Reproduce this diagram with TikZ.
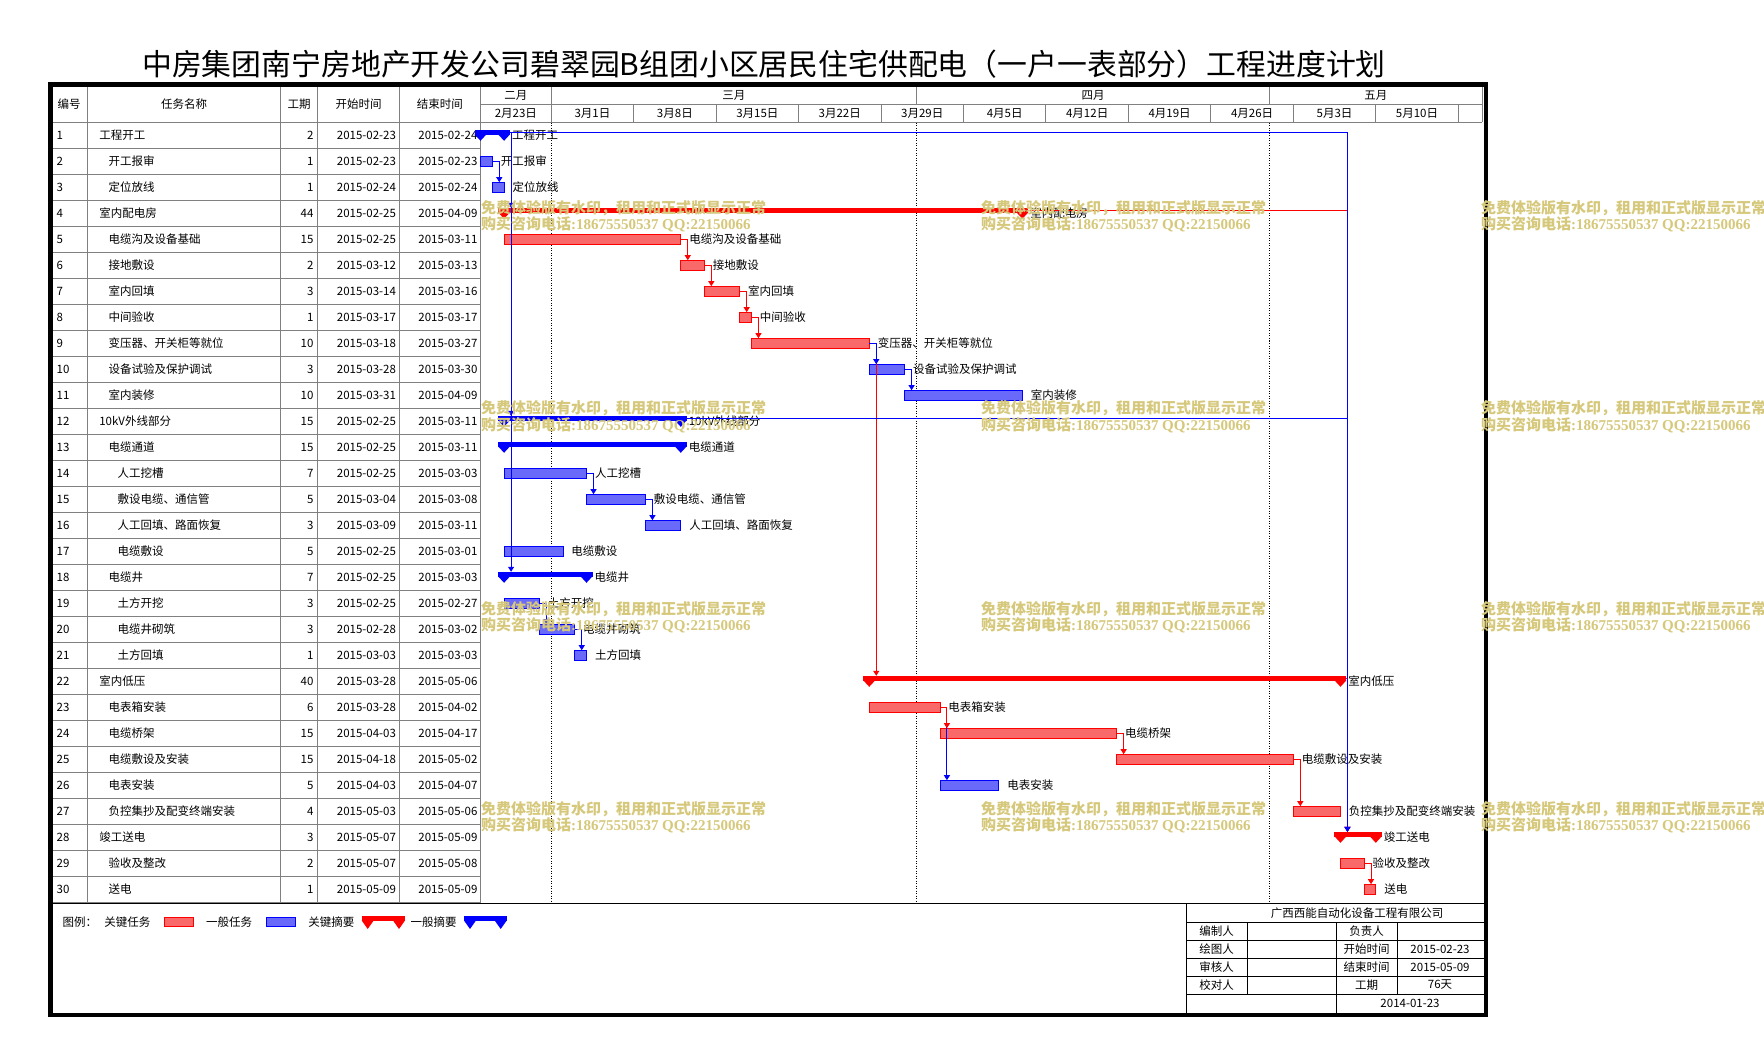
\documentclass[tikz,border=0pt]{standalone}
\usepackage{fontspec}
\setmainfont{Noto Sans CJK SC}
\newfontfamily\wmlat{Liberation Serif}
\usetikzlibrary{arrows.meta,calc}
\definecolor{gridc}{RGB}{128,128,128}
\definecolor{wm}{RGB}{214,200,122}
\definecolor{rfill}{RGB}{250,105,105}
\definecolor{bfill}{RGB}{105,105,250}
\definecolor{myred}{RGB}{255,0,0}
\definecolor{myblue}{RGB}{0,0,255}

% task bar: name,row,d1,d2,style,label
\newcommand\gtask[6]{%
  \pgfmathsetmacro\gxa{480.5+11.78*(#3)}%
  \pgfmathsetmacro\gxb{480.5+11.78*(#4)}%
  \pgfmathsetmacro\gyc{109.3+26*(#2)}%
  \pgfmathsetmacro\gwd{\gxb-\gxa}%
  \node[#5,minimum width=\gwd pt,anchor=west] (#1) at (\gxa,\gyc) {};%
  \coordinate (#1a) at ({\gxa+7},{\gyc-5.1});%
  \node[lbl] (#1l) at ({\gxb+8.5},{\gyc}) {#6};%
}
% summary bar: name,row,d1,d2,colour,label
\newcommand\gsum[6]{%
  \pgfmathsetmacro\gxa{480.5+11.78*(#3)}%
  \pgfmathsetmacro\gxb{480.5+11.78*(#4)}%
  \pgfmathsetmacro\gyc{109.3+26*(#2)}%
  \pgfmathsetmacro\gwd{\gxb-\gxa+12}%
  \node[fill=#5,inner sep=0pt,outer sep=0pt,minimum height=5pt,minimum width=\gwd pt,anchor=west] (#1) at ({\gxa-6},{\gyc-3}) {};%
  \fill[#5] ({\gxa-6},{\gyc-1}) -- ({\gxa+6},{\gyc-1}) -- ({\gxa},{\gyc+5.5}) -- cycle;%
  \fill[#5] ({\gxb-6},{\gyc-1}) -- ({\gxb+6},{\gyc-1}) -- ({\gxb},{\gyc+5.5}) -- cycle;%
  \coordinate (#1a) at ({\gxa+7},{\gyc-5.5});%
  \node[lbl] (#1l) at ({\gxb+8},{\gyc}) {#6};%
}
% table row: i, indent, name, duration, start, end
\newcommand\trow[6]{%
  \pgfmathsetmacro\gyc{109.3+26*(#1)}%
  \node[tx,anchor=west] (no#1) at (56.7,\gyc) {#1};%
  \node[tx,anchor=west] (na#1) at (#2,\gyc) {#3};%
  \node[tx,anchor=east] (du#1) at (313.5,\gyc) {#4};%
  \node[tx,anchor=east] (st#1) at (396,\gyc) {#5};%
  \node[tx,anchor=east] (en#1) at (477.5,\gyc) {#6};%
}
% legend summary symbol: name,x1,x2,colour
\newcommand\lsum[4]{%
  \node[fill=#4,inner sep=0pt,outer sep=0pt,minimum height=5pt,minimum width={(#3)-(#2)},anchor=west] (#1) at (#2,918.3) {};%
  \fill[#4] (#2,920.5) -- ({#2+12},920.5) -- ({#2+6},929) -- cycle;%
  \fill[#4] ({#3-12},920.5) -- (#3,920.5) -- ({#3-6},929) -- cycle;%
}

\begin{document}
\begin{tikzpicture}[x=1pt,y=-1pt,
  tx/.style={inner sep=0pt,outer sep=0pt,font=\fontsize{11.5}{12}\selectfont},
  lbl/.style={tx,anchor=west},
  rtask/.style={draw=myred,fill=rfill,line width=0.8pt,inner sep=0pt,outer sep=0pt,minimum height=9.5pt},
  btask/.style={draw=myblue,fill=bfill,line width=0.8pt,inner sep=0pt,outer sep=0pt,minimum height=9.5pt},
  gridl/.style={draw=gridc,line width=1pt},
  rlink/.style={draw=myred,line width=1pt,-{Triangle[width=6pt,length=5pt]}},
  blink/.style={draw=myblue,line width=1pt,-{Triangle[width=6pt,length=5pt]}},
  wmk/.style={inner sep=0pt,outer sep=0pt,anchor=west,text=wm,font=\fontsize{15}{16}\selectfont\bfseries},
  ibox/.style={draw=black,line width=1pt},
  dotl/.style={draw=black,line width=1pt,dash pattern=on 1pt off 1.5pt},
]
\useasboundingbox (0,0) rectangle (1764,1064);
\fill[white] (0,0) rectangle (1764,1064);

% title
\node[inner sep=0pt,font=\fontsize{29.85}{31}\selectfont] (title) at (764,64) {中房集团南宁房地产开发公司碧翠园B组团小区居民住宅供配电（一户一表部分）工程进度计划};

% table grid
\foreach \k in {0,...,30} \draw[gridl] (52.7,{122.3+26*\k}) -- (480.5,{122.3+26*\k});
\draw[gridl] (480.5,122.3) -- (1482,122.3);
\draw[gridl] (480.5,104.3) -- (1482,104.3);
\foreach \x in {87.3,280.7,317.7,399.3,480.5} \draw[gridl] (\x,86.5) -- (\x,902.3);
\foreach \d in {6,37,67} \draw[gridl] ({480.5+11.78*\d},86.5) -- ({480.5+11.78*\d},104.3);
\foreach \d in {6,13,...,83} \draw[gridl] ({480.5+11.78*\d},104.3) -- ({480.5+11.78*\d},122.3);
\draw[gridl] (1482,86.5) -- (1482,122.3);

% dotted month lines
\foreach \d in {6,37,67} \draw[dotl] ({480.5+11.78*\d},123) -- ({480.5+11.78*\d},902);

% headers
\node[tx] (h1) at (69,104.5) {编号};
\node[tx] (h2) at (184,104.5) {任务名称};
\node[tx] (h3) at (299.2,104.5) {工期};
\node[tx] (h4) at (358.5,104.5) {开始时间};
\node[tx] (h5) at (439.9,104.5) {结束时间};
\foreach \a/\b/\t [count=\k] in {0/6/二月,6/37/三月,37/67/四月,67/85/五月}
  \node[tx] (mo\k) at ({480.5+11.78*(\a+\b)/2},95.3) {\t};
\foreach \a/\b/\t [count=\k] in {0/6/2月23日,6/13/3月1日,13/20/3月8日,20/27/3月15日,27/34/3月22日,34/41/3月29日,41/48/4月5日,48/55/4月12日,55/62/4月19日,62/69/4月26日,69/76/5月3日,76/83/5月10日}
  \node[tx] (wk\k) at ({480.5+11.78*(\a+\b)/2},113.5) {\t};

% table rows
\trow{1}{99.3}{工程开工}{2}{2015-02-23}{2015-02-24}
\trow{2}{108.5}{开工报审}{1}{2015-02-23}{2015-02-23}
\trow{3}{108.5}{定位放线}{1}{2015-02-24}{2015-02-24}
\trow{4}{99.3}{室内配电房}{44}{2015-02-25}{2015-04-09}
\trow{5}{108.5}{电缆沟及设备基础}{15}{2015-02-25}{2015-03-11}
\trow{6}{108.5}{接地敷设}{2}{2015-03-12}{2015-03-13}
\trow{7}{108.5}{室内回填}{3}{2015-03-14}{2015-03-16}
\trow{8}{108.5}{中间验收}{1}{2015-03-17}{2015-03-17}
\trow{9}{108.5}{变压器、开关柜等就位}{10}{2015-03-18}{2015-03-27}
\trow{10}{108.5}{设备试验及保护调试}{3}{2015-03-28}{2015-03-30}
\trow{11}{108.5}{室内装修}{10}{2015-03-31}{2015-04-09}
\trow{12}{99.3}{10kV外线部分}{15}{2015-02-25}{2015-03-11}
\trow{13}{108.5}{电缆通道}{15}{2015-02-25}{2015-03-11}
\trow{14}{117.7}{人工挖槽}{7}{2015-02-25}{2015-03-03}
\trow{15}{117.7}{敷设电缆、通信管}{5}{2015-03-04}{2015-03-08}
\trow{16}{117.7}{人工回填、路面恢复}{3}{2015-03-09}{2015-03-11}
\trow{17}{117.7}{电缆敷设}{5}{2015-02-25}{2015-03-01}
\trow{18}{108.5}{电缆井}{7}{2015-02-25}{2015-03-03}
\trow{19}{117.7}{土方开挖}{3}{2015-02-25}{2015-02-27}
\trow{20}{117.7}{电缆井砌筑}{3}{2015-02-28}{2015-03-02}
\trow{21}{117.7}{土方回填}{1}{2015-03-03}{2015-03-03}
\trow{22}{99.3}{室内低压}{40}{2015-03-28}{2015-05-06}
\trow{23}{108.5}{电表箱安装}{6}{2015-03-28}{2015-04-02}
\trow{24}{108.5}{电缆桥架}{15}{2015-04-03}{2015-04-17}
\trow{25}{108.5}{电缆敷设及安装}{15}{2015-04-18}{2015-05-02}
\trow{26}{108.5}{电表安装}{5}{2015-04-03}{2015-04-07}
\trow{27}{108.5}{负控集抄及配变终端安装}{4}{2015-05-03}{2015-05-06}
\trow{28}{99.3}{竣工送电}{3}{2015-05-07}{2015-05-09}
\trow{29}{108.5}{验收及整改}{2}{2015-05-07}{2015-05-08}
\trow{30}{108.5}{送电}{1}{2015-05-09}{2015-05-09}

% gantt bars
\gsum{s1}{1}{0}{2}{myblue}{工程开工}
\gtask{t2}{2}{0}{1}{btask}{开工报审}
\gtask{t3}{3}{1}{2}{btask}{定位放线}
\gsum{s4}{4}{2}{46}{myred}{室内配电房}
\gtask{t5}{5}{2}{17}{rtask}{电缆沟及设备基础}
\gtask{t6}{6}{17}{19}{rtask}{接地敷设}
\gtask{t7}{7}{19}{22}{rtask}{室内回填}
\gtask{t8}{8}{22}{23}{rtask}{中间验收}
\gtask{t9}{9}{23}{33}{rtask}{变压器、开关柜等就位}
\gtask{t10}{10}{33}{36}{btask}{设备试验及保护调试}
\gtask{t11}{11}{36}{46}{btask}{室内装修}
\gsum{s12}{12}{2}{17}{myblue}{10kV外线部分}
\gsum{s13}{13}{2}{17}{myblue}{电缆通道}
\gtask{t14}{14}{2}{9}{btask}{人工挖槽}
\gtask{t15}{15}{9}{14}{btask}{敷设电缆、通信管}
\gtask{t16}{16}{14}{17}{btask}{人工回填、路面恢复}
\gtask{t17}{17}{2}{7}{btask}{电缆敷设}
\gsum{s18}{18}{2}{9}{myblue}{电缆井}
\gtask{t19}{19}{2}{5}{btask}{土方开挖}
\gtask{t20}{20}{5}{8}{btask}{电缆井砌筑}
\gtask{t21}{21}{8}{9}{btask}{土方回填}
\gsum{s22}{22}{33}{73}{myred}{室内低压}
\gtask{t23}{23}{33}{39}{rtask}{电表箱安装}
\gtask{t24}{24}{39}{54}{rtask}{电缆桥架}
\gtask{t25}{25}{54}{69}{rtask}{电缆敷设及安装}
\gtask{t26}{26}{39}{44}{btask}{电表安装}
\gtask{t27}{27}{69}{73}{rtask}{负控集抄及配变终端安装}
\gsum{s28}{28}{73}{76}{myred}{竣工送电}
\gtask{t29}{29}{73}{75}{rtask}{验收及整改}
\gtask{t30}{30}{75}{76}{rtask}{送电}

% links: red first
\draw[rlink] (s4.east) -| (s28a);
\draw[rlink] (s22.east) -| (s28a);
\draw[rlink] (t5.east) -| (t6a);
\draw[rlink] (t6.east) -| (t7a);
\draw[rlink] (t7.east) -| (t8a);
\draw[rlink] (t8.east) -| (t9a);
\draw[rlink] (t9.east) -| (s22a);
\draw[rlink] (t24.east) -| (t25a);
\draw[rlink] (t25.east) -| (t27a);
\draw[rlink] (t29.east) -| (t30a);
\draw[blink] (t23.east) -| (t26a);
\draw[rlink] (t23.east) -| (t24a);
% blue links
\draw[blink] (t9.east) -| (t10a);
\draw[blink] (t10.east) -| (t11a);
\draw[blink] (t2.east) -| (t3a);
\draw[blink] (s1.east) -| (s18a);
\draw[blink] (s1.east) -| (s12a);
\draw[blink] (s1.east) -| (s4a);
\draw[blink] (s12.east) -| (s28a);
\draw[blink] (s1.east) -| (s28a);
\draw[blink] (t14.east) -| (t15a);
\draw[blink] (t15.east) -| (t16a);
\draw[blink] (t19.east) -| (t20a);
\draw[blink] (t20.east) -| (t21a);

% footer separator
\draw[draw=black,line width=1pt] (52.7,903.5) -- (1483.5,903.5);

% legend
\node[tx,anchor=west] (lg0) at (62.7,922.3) {图例：};
\node[tx,anchor=west] (lg1) at (104.3,922.3) {关键任务};
\node[rtask,minimum width=29.7pt,anchor=west] (lg2) at (164,922) {};
\node[tx,anchor=west] (lg3) at (206,922.3) {一般任务};
\node[btask,minimum width=29.7pt,anchor=west] (lg4) at (266,922) {};
\node[tx,anchor=west] (lg5) at (308.3,922.3) {关键摘要};
\lsum{lg6}{361.7}{405}{myred}
\node[tx,anchor=west] (lg7) at (410.7,922.3) {一般摘要};
\lsum{lg8}{464}{506.7}{myblue}

% info box
\draw[ibox] (1186,903.5) -- (1186,1013);
\foreach \y in {922,940,958,976,994} \draw[ibox] (1186,\y) -- (1483.5,\y);
\draw[ibox] (1247,922) -- (1247,994);
\draw[ibox] (1336,922) -- (1336,1013);
\draw[ibox] (1397,922) -- (1397,994);
\node[tx] (co) at (1357,913) {广西西能自动化设备工程有限公司};
\node[tx] (i1) at (1216.5,931) {编制人};
\node[tx] (i2) at (1216.5,949) {绘图人};
\node[tx] (i3) at (1216.5,967) {审核人};
\node[tx] (i4) at (1216.5,985) {校对人};
\node[tx] (i5) at (1366.5,931) {负责人};
\node[tx] (i6) at (1366.5,949) {开始时间};
\node[tx] (i7) at (1366.5,967) {结束时间};
\node[tx] (i8) at (1366.5,985) {工期};
\node[tx] (i9) at (1440,949) {2015-02-23};
\node[tx] (i10) at (1440,967) {2015-05-09};
\node[tx] (i11) at (1440,985) {76天};
\node[tx] (i12) at (1410,1003) {2014-01-23};

% outer thick border
\draw[draw=black,line width=4.7pt] (50.5,84.2) rectangle (1486,1015);

% watermarks
\foreach \wx [count=\i] in {481,981,1481}
  \foreach \wy [count=\j] in {208,408.5,609,809} {
    \node[wmk] (wa\i\j) at ({\wx},{\wy}) {免费体验版有水印，租用和正式版显示正常};
    \node[wmk] (wb\i\j) at ({\wx},{\wy+16.5}) {购买咨询电话{\wmlat:18675550537 QQ:22150066}};
  }
\end{tikzpicture}
\end{document}
